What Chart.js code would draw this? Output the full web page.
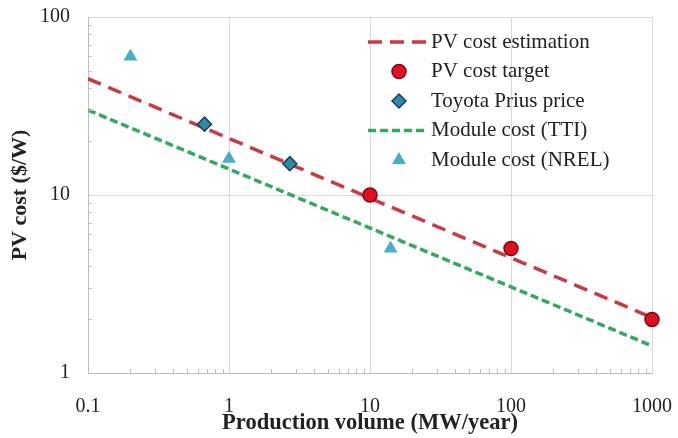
<!DOCTYPE html>
<html>
<head>
<meta charset="utf-8">
<script src="https://cdn.jsdelivr.net/npm/chart.js@4.4.1/dist/chart.umd.min.js"></script>
<style>
    html, body { margin: 0; padding: 0; background: #fff; }
    #wrap { width: 678px; height: 438px; }
</style>
</head>
<body>
<div id="wrap"><canvas id="pvChart" width="678" height="438"></canvas></div>
<script>
const xTicks = [0.1, 1, 10, 100, 1000];
const yTicks = [1, 10, 100];

const estimationX = [0.1, 1000];
const estimationY = [45, 2.05];
const targetX = [10, 100, 1000];
const targetY = [10, 5, 2];
const priusX = [0.67, 2.7];
const priusY = [25, 15];
const ttiX = [0.1, 1000];
const ttiY = [30, 1.42];
const nrelX = [0.2, 1, 14];
const nrelY = [60, 16, 5];

const serif = '"Liberation Serif", "Times New Roman", serif';
const textColor = '#222';
const gridColor = '#d9d9d9';
const axisColor = '#bdbdbd';

const colors = {
    red: '#c83a46',
    green: '#33a862',
    target: '#e01020',
    targetEdge: '#7a0a10',
    prius: '#2a8aa8',
    priusEdge: '#1b3d5c',
    nrel: '#4bacc6'
};

const pts = (xs, ys) => xs.map((x, i) => ({ x, y: ys[i] }));

// keep the plot box where the original has it: no extra room for overhanging labels
function noOverhang(scale) {
    scale.paddingLeft = 0;
    scale.paddingRight = 0;
    scale.paddingTop = 0;
    scale.paddingBottom = 0;
}

// minor tick marks on the left and bottom axis, pointing inward
const minorTicks = {
    id: 'minorTicks',
    afterDraw(chart) {
        const ctx = chart.ctx;
        const area = chart.chartArea;
        ctx.save();
        ctx.strokeStyle = axisColor;
        ctx.lineWidth = 1;
        ['x', 'y'].forEach((id) => {
            const scale = chart.scales[id];
            const majors = id === 'x' ? xTicks : yTicks;
            majors.slice(0, -1).forEach((m) => {
                for (let k = 2; k <= 9; k++) {
                    const p = Math.round(scale.getPixelForValue(m * k)) + 0.5;
                    ctx.beginPath();
                    if (id === 'x') {
                        ctx.moveTo(p, area.bottom);
                        ctx.lineTo(p, area.bottom - 4);
                    } else {
                        ctx.moveTo(area.left, p);
                        ctx.lineTo(area.left + 4, p);
                    }
                    ctx.stroke();
                }
            });
        });
        ctx.restore();
    }
};

// legend drawn inside the plot, transparent, like the original
const insideLegend = {
    id: 'insideLegend',
    afterDraw(chart) {
        const ctx = chart.ctx;
        const area = chart.chartArea;
        const lineStart = area.left + 280;
        const lineEnd = area.left + 338;
        const markX = (lineStart + lineEnd) / 2 + 2;
        const textX = area.left + 343;
        const firstY = area.top + 25;
        const step = 29.5;
        const order = ['PV cost estimation', 'PV cost target', 'Toyota Prius price', 'Module cost (TTI)', 'Module cost (NREL)'];
        ctx.save();
        ctx.font = '21px ' + serif;
        ctx.textBaseline = 'middle';
        order.forEach((label, i) => {
            const ds = chart.data.datasets.find((d) => d.label === label);
            const y = firstY + i * step;
            if (ds.showLine) {
                ctx.save();
                ctx.strokeStyle = ds.borderColor;
                ctx.lineWidth = ds.borderWidth;
                ctx.setLineDash(ds.borderDash);
                ctx.beginPath();
                ctx.moveTo(lineStart, y);
                ctx.lineTo(lineEnd, y);
                ctx.stroke();
                ctx.restore();
            } else {
                ctx.save();
                ctx.fillStyle = ds.pointBackgroundColor;
                ctx.strokeStyle = ds.pointBorderColor;
                ctx.lineWidth = ds.pointBorderWidth;
                ctx.beginPath();
                drawMarker(ctx, ds.pointStyle, ds.pointRadius, markX, y);
                ctx.fill();
                if (ds.pointBorderWidth > 0) ctx.stroke();
                ctx.restore();
            }
            ctx.fillStyle = textColor;
            ctx.fillText(label, textX, y);
        });
        ctx.restore();
    }
};

function drawMarker(ctx, style, r, x, y) {
    if (style === 'circle') {
        ctx.arc(x, y, r, 0, Math.PI * 2);
    } else if (style === 'rectRot') {
        ctx.moveTo(x - r, y);
        ctx.lineTo(x, y - r);
        ctx.lineTo(x + r, y);
        ctx.lineTo(x, y + r);
        ctx.closePath();
    } else {
        const h = r * Math.sqrt(3) / 2;
        ctx.moveTo(x, y - r);
        ctx.lineTo(x + h, y + r / 2);
        ctx.lineTo(x - h, y + r / 2);
        ctx.closePath();
    }
}

new Chart(document.getElementById('pvChart'), {
    type: 'scatter',
    data: {
        datasets: [
            {
                label: 'PV cost estimation',
                data: pts(estimationX, estimationY),
                showLine: true,
                borderColor: colors.red,
                borderWidth: 3.5,
                borderDash: [14, 8],
                pointRadius: 0,
                order: 2
            },
            {
                label: 'Module cost (TTI)',
                data: pts(ttiX, ttiY),
                showLine: true,
                borderColor: colors.green,
                borderWidth: 3.5,
                borderDash: [8, 4],
                pointRadius: 0,
                order: 2
            },
            {
                label: 'PV cost target',
                data: pts(targetX, targetY),
                showLine: false,
                clip: false,
                pointStyle: 'circle',
                pointRadius: 7,
                pointBackgroundColor: colors.target,
                pointBorderColor: colors.targetEdge,
                pointBorderWidth: 1.5,
                order: 1
            },
            {
                label: 'Toyota Prius price',
                data: pts(priusX, priusY),
                showLine: false,
                clip: false,
                pointStyle: 'rectRot',
                pointRadius: 7,
                pointBackgroundColor: colors.prius,
                pointBorderColor: colors.priusEdge,
                pointBorderWidth: 1.5,
                order: 1
            },
            {
                label: 'Module cost (NREL)',
                data: pts(nrelX, nrelY),
                showLine: false,
                clip: false,
                pointStyle: 'triangle',
                pointRadius: 8,
                pointBackgroundColor: colors.nrel,
                pointBorderColor: colors.nrel,
                pointBorderWidth: 0,
                order: 1
            }
        ]
    },
    options: {
        responsive: false,
        animation: false,
        layout: { padding: { top: 17, right: 26, left: 0, bottom: 0 } },
        plugins: {
            legend: { display: false },
            tooltip: { enabled: false }
        },
        scales: {
            x: {
                type: 'logarithmic',
                min: 0.1,
                max: 1000,
                afterBuildTicks: (scale) => { scale.ticks = xTicks.map((v) => ({ value: v })); },
                afterFit: (scale) => { scale.height = 65; noOverhang(scale); },
                grid: { color: gridColor, lineWidth: 1, drawTicks: false },
                border: { color: axisColor, width: 1 },
                ticks: {
                    padding: 22,
                    color: textColor,
                    font: { family: serif, size: 20 },
                    maxRotation: 0,
                    autoSkip: false,
                    callback: (v) => String(v)
                },
                title: {
                    display: true,
                    text: 'Production volume (MW/year)',
                    color: textColor,
                    font: { family: serif, size: 22.5, weight: 'bold' },
                    padding: { top: 0, bottom: 1 }
                }
            },
            y: {
                type: 'logarithmic',
                min: 1,
                max: 100,
                afterBuildTicks: (scale) => { scale.ticks = yTicks.map((v) => ({ value: v })); },
                afterFit: (scale) => { scale.width = 88; noOverhang(scale); },
                grid: { color: gridColor, lineWidth: 1, drawTicks: false },
                border: { color: axisColor, width: 1 },
                ticks: {
                    padding: 18,
                    color: textColor,
                    font: { family: serif, size: 20 },
                    autoSkip: false,
                    callback: (v) => String(v)
                },
                title: {
                    display: true,
                    text: 'PV cost ($/W)',
                    color: textColor,
                    font: { family: serif, size: 22, weight: 'bold' },
                    padding: { top: 7, bottom: 0 }
                }
            }
        }
    },
    plugins: [minorTicks, insideLegend]
});
</script>
</body>
</html>
